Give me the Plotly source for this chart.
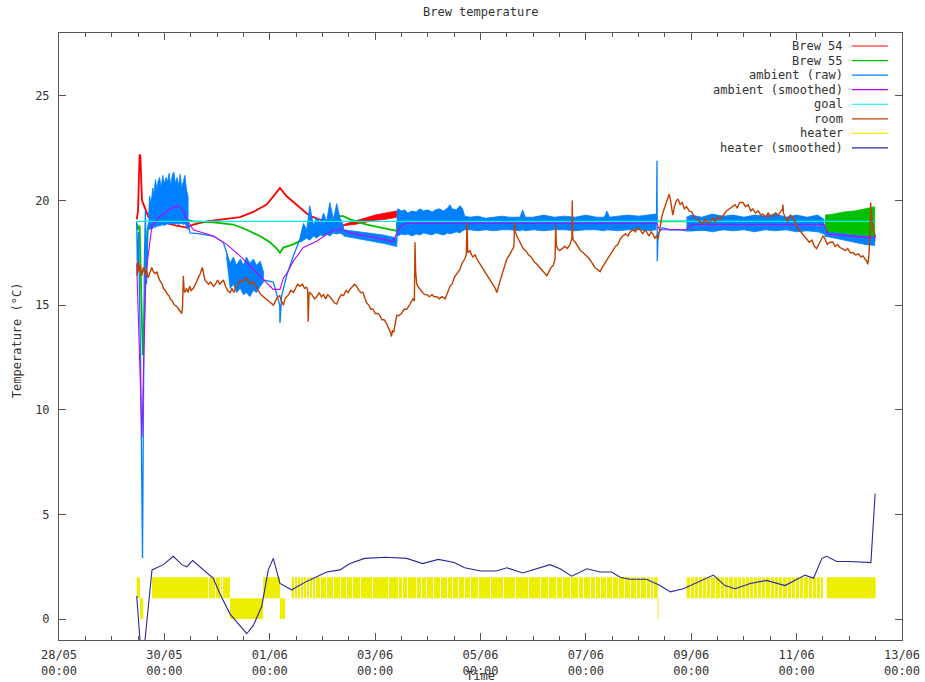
import numpy as np
import pandas as pd
import plotly.graph_objects as go

START = pd.Timestamp("2011-05-28 00:00")


def when(days):
    return START + pd.to_timedelta(np.asarray(days, dtype=float), unit="D")


# ---------------- data (time in days since 28/05 00:00, temperature in °C) ----------------
brew54_day = [1.475, 1.50, 1.53, 1.545, 1.575, 1.632, 1.70, 1.90, 2.10, 2.234, 2.424, 2.549, 2.803,
              3.183, 3.435, 3.688, 3.942, 4.132, 4.194, 4.321, 4.574, 4.764, 4.826, 5.143, 5.40]
brew54_temp = [19.1, 19.5, 22.2, 22.1, 20.0, 19.6, 19.2, 19.0, 18.9, 18.8, 18.7, 18.85, 19.0,
               19.1, 19.2, 19.45, 19.8, 20.4, 20.6, 20.2, 19.65, 19.25, 19.2, 18.9, 18.82]
brew54_band_day = [5.40, 5.60, 5.80, 6.00, 6.20, 6.41]
brew54_band_lo = [18.8, 18.85, 18.95, 19.05, 19.1, 19.2]
brew54_band_hi = [18.85, 19.0, 19.15, 19.3, 19.4, 19.5]

brew55_day = [1.475, 1.50, 1.53, 1.56, 1.59, 1.62, 1.65, 1.68, 1.72, 1.80, 2.0, 2.234, 2.549, 2.928,
              3.308, 3.562, 3.815, 4.005, 4.132, 4.194, 4.257, 4.447, 4.637, 4.796, 5.016, 5.27,
              5.396, 5.523, 5.84, 6.155, 6.409, 6.42, 11.36, 11.40, 14.54]
brew55_temp = [18.9, 18.6, 18.8, 16.0, 12.6, 14.5, 17.5, 18.6, 18.9, 19.0, 19.1, 19.2, 19.0, 18.95,
               18.85, 18.6, 18.3, 18.0, 17.7, 17.5, 17.75, 17.9, 18.15, 18.45, 18.8, 19.25,
               19.25, 19.1, 18.85, 18.7, 18.55, 19.0, 19.0, 19.0, 19.0]
brew55_band_day = [14.54, 14.7, 14.9, 15.1, 15.3, 15.48]
brew55_band_lo = [18.3, 18.25, 18.2, 18.1, 18.0, 18.0]
brew55_band_hi = [19.3, 19.35, 19.45, 19.5, 19.6, 19.7]

ambient_day = [1.475, 1.49, 1.51, 1.55, 1.585, 1.60, 1.62, 1.64, 1.66, 1.69, 1.72, 2.45, 2.486, 2.676,
               2.928, 3.118, 3.183, 3.245, 3.877, 4.067, 4.19, 4.194, 4.227, 4.32, 4.447, 4.574,
               4.70, 5.40, 5.84, 6.155, 6.41, 6.42, 11.34, 11.35, 11.355, 11.37, 11.45, 11.6, 11.8,
               11.91, 14.52, 14.54, 15.5]
ambient_temp = [19.0, 16.5, 18.5, 12.0, 2.9, 10.0, 17.0, 19.5, 16.0, 18.8, 19.0, 19.0, 18.45, 18.4,
                18.3, 18.0, 17.5, 16.8, 16.2, 16.1, 15.0, 14.15, 15.45, 16.4, 17.35, 18.15,
                18.45, 18.45, 18.3, 18.15, 18.0, 18.9, 18.9, 21.9, 17.1, 18.4, 18.7, 18.6, 18.6,
                18.55, 18.8, 18.3, 18.1]

# noisy stretches of the raw ambient reading: (day, low envelope, high envelope)
amb_b_day = [1.70, 1.72, 1.75, 1.78, 1.80, 1.83, 1.86, 1.88, 1.91, 1.94, 1.97, 2.00, 2.03, 2.06,
             2.09, 2.12, 2.15, 2.18, 2.21, 2.24, 2.27, 2.30, 2.33, 2.36, 2.39, 2.42, 2.45]
amb_b_lo = [18.7, 18.6, 18.7, 18.65, 18.75, 18.7, 18.8, 18.75, 18.8, 18.8, 18.85, 18.8, 18.85, 18.9,
            18.85, 18.9, 18.9, 18.85, 18.9, 18.9, 18.85, 18.9, 18.9, 18.85, 18.9, 18.8, 18.6]
amb_b_hi = [19.3, 20.2, 19.9, 20.6, 20.3, 21.0, 20.5, 20.9, 21.1, 20.6, 21.2, 20.8, 21.1, 20.9,
            21.3, 20.7, 21.2, 21.35, 20.8, 21.1, 20.7, 21.25, 20.6, 20.9, 21.2, 20.5, 20.2]
amb_d_day = [3.18, 3.25, 3.31, 3.37, 3.44, 3.50, 3.56, 3.62, 3.69, 3.75, 3.82, 3.88]
amb_d_lo = [17.3, 15.8, 16.0, 15.6, 15.8, 15.5, 15.6, 15.4, 15.7, 15.6, 15.9, 16.1]
amb_d_hi = [17.5, 17.0, 17.3, 16.9, 17.2, 16.9, 17.3, 17.0, 17.2, 16.9, 17.1, 16.6]
amb_f_day = [4.57, 4.64, 4.70, 4.76, 4.83, 4.89, 4.96, 5.02, 5.08, 5.14, 5.21, 5.27, 5.33, 5.40]
amb_f_lo = [18.0, 18.1, 18.2, 18.1, 18.3, 18.2, 18.35, 18.3, 18.4, 18.3, 18.45, 18.4, 18.45, 18.35]
amb_f_hi = [18.2, 18.9, 18.6, 19.75, 18.8, 19.2, 18.9, 19.4, 19.0, 19.9, 19.1, 19.85, 19.2, 18.8]
amb_g_day = [5.40, 5.84, 6.155, 6.41]
amb_g_lo = [18.3, 18.1, 17.95, 17.8]
amb_g_hi = [18.6, 18.45, 18.35, 18.2]
amb_h_day = [6.41, 6.43, 6.50, 6.56, 6.62, 6.70, 6.78, 6.85, 6.92, 7.00, 7.08, 7.15, 7.22, 7.30,
             7.38, 7.42, 7.46, 7.54, 7.61, 7.66, 7.70, 7.80, 7.95, 8.10, 8.25, 8.40, 8.55, 8.75,
             8.80, 8.85, 9.00, 9.20, 9.40, 9.60, 9.80, 10.00, 10.20, 10.35, 10.40, 10.45, 10.60,
             10.80, 11.00, 11.20, 11.33]
amb_h_lo = [18.35, 18.3, 18.4, 18.35, 18.4, 18.3, 18.4, 18.35, 18.45, 18.4, 18.35, 18.45, 18.4,
            18.35, 18.45, 18.4, 18.45, 18.5, 18.45, 18.55, 18.6, 18.6, 18.55, 18.6, 18.55, 18.6,
            18.6, 18.55, 18.6, 18.55, 18.6, 18.55, 18.6, 18.6, 18.55, 18.6, 18.6, 18.55, 18.6,
            18.6, 18.55, 18.6, 18.6, 18.55, 18.6]
amb_h_hi = [19.45, 19.6, 19.5, 19.55, 19.4, 19.5, 19.45, 19.6, 19.5, 19.55, 19.45, 19.55, 19.6,
            19.5, 19.65, 19.8, 19.6, 19.55, 19.75, 19.6, 19.25, 19.2, 19.25, 19.15, 19.2, 19.25,
            19.2, 19.2, 19.55, 19.2, 19.2, 19.3, 19.2, 19.25, 19.2, 19.3, 19.2, 19.2, 19.5,
            19.2, 19.25, 19.3, 19.25, 19.3, 19.35]
amb_k_day = [11.91, 12.0, 12.2, 12.4, 12.6, 12.8, 13.0, 13.2, 13.4, 13.6, 13.8, 14.0, 14.2, 14.4, 14.52]
amb_k_lo = [18.6, 18.55, 18.6, 18.5, 18.6, 18.55, 18.6, 18.5, 18.6, 18.55, 18.6, 18.5, 18.55, 18.5, 18.4]
amb_k_hi = [19.2, 19.3, 19.2, 19.35, 19.25, 19.3, 19.2, 19.3, 19.25, 19.35, 19.2, 19.3, 19.2, 19.3, 19.1]
amb_m_day = [14.54, 14.7, 14.9, 15.1, 15.3, 15.48]
amb_m_lo = [18.3, 18.2, 18.1, 18.0, 17.9, 17.85]
amb_m_hi = [18.5, 18.45, 18.4, 18.35, 18.3, 18.3]

smooth_day = [1.475, 1.52, 1.575, 1.61, 1.65, 1.69, 1.765, 1.90, 2.044, 2.234, 2.33, 2.424, 2.549,
              2.928, 3.183, 3.435, 3.625, 3.815, 4.005, 4.067, 4.194, 4.26, 4.32, 4.447, 4.637,
              4.891, 5.206, 5.396, 5.523, 5.84, 6.155, 6.345, 6.409, 6.5, 6.6, 11.34, 11.40,
              11.90, 12.0, 14.52, 14.6, 15.5]
smooth_temp = [17.0, 13.0, 8.7, 12.5, 16.5, 17.3, 18.8, 19.2, 19.5, 19.75, 19.6, 19.1, 18.6,
               18.3, 17.9, 17.35, 16.85, 16.4, 15.9, 15.75, 15.75, 16.3, 16.5, 17.1, 17.75,
               18.05, 18.6, 18.6, 18.45, 18.3, 18.15, 18.05, 18.45, 18.8, 18.9, 18.9, 18.6,
               18.6, 18.85, 18.85, 18.4, 18.2]

goal_day = [1.475, 15.5]
goal_temp = [19.0, 19.0]

room_day = [1.48, 1.50, 1.52, 1.54, 1.57, 1.60, 1.63, 1.66, 1.69, 1.73, 1.76, 1.79, 1.83, 1.86,
            1.89, 1.93, 1.96, 1.98, 2.02, 2.06, 2.09, 2.11, 2.15, 2.19, 2.23, 2.27, 2.30, 2.33,
            2.345, 2.36, 2.375, 2.39, 2.42, 2.45, 2.48, 2.51, 2.55, 2.58, 2.61, 2.64, 2.68, 2.72,
            2.74, 2.77, 2.80, 2.84, 2.88, 2.93, 2.97, 3.01, 3.05, 3.09, 3.12, 3.16, 3.20, 3.25,
            3.28, 3.32, 3.36, 3.40, 3.44, 3.50, 3.54, 3.58, 3.63, 3.69, 3.73, 3.78, 3.83, 3.88,
            3.93, 3.98, 4.03, 4.07, 4.11, 4.15, 4.19, 4.22, 4.26, 4.29, 4.32, 4.36, 4.40, 4.45,
            4.49, 4.53, 4.57, 4.62, 4.66, 4.70, 4.72, 4.73, 4.745, 4.76, 4.80, 4.85, 4.89, 4.94,
            4.98, 5.02, 5.06, 5.10, 5.14, 5.19, 5.23, 5.27, 5.31, 5.36, 5.40, 5.45, 5.49, 5.52,
            5.57, 5.61, 5.65, 5.69, 5.73, 5.77, 5.81, 5.84, 5.88, 5.92, 5.96, 6.00, 6.05, 6.09,
            6.13, 6.17, 6.22, 6.26, 6.29, 6.31, 6.33, 6.35, 6.38, 6.41, 6.45, 6.50, 6.55, 6.60,
            6.65, 6.70, 6.72, 6.745, 6.757, 6.77, 6.79, 6.81, 6.86, 6.90, 6.94, 6.98, 7.03, 7.08,
            7.12, 7.17, 7.22, 7.27, 7.33, 7.37, 7.42, 7.46, 7.50, 7.55, 7.61, 7.65, 7.70, 7.73,
            7.745, 7.755, 7.76, 7.80, 7.85, 7.90, 7.93, 7.98, 8.03, 8.08, 8.13, 8.18, 8.24, 8.28,
            8.31, 8.35, 8.40, 8.45, 8.50, 8.55, 8.60, 8.635, 8.645, 8.66, 8.69, 8.73, 8.77, 8.81,
            8.86, 8.91, 8.96, 9.01, 9.07, 9.12, 9.17, 9.22, 9.26, 9.30, 9.34, 9.38, 9.415, 9.427,
            9.44, 9.46, 9.50, 9.55, 9.60, 9.65, 9.70, 9.735, 9.742, 9.75, 9.76, 9.80, 9.85, 9.90,
            9.95, 10.02, 10.07, 10.12, 10.17, 10.22, 10.27, 10.31, 10.36, 10.41, 10.46, 10.51,
            10.56, 10.61, 10.65, 10.70, 10.75, 10.80, 10.84, 10.89, 10.94, 10.98, 11.03, 11.08,
            11.12, 11.15, 11.20, 11.24, 11.27, 11.31, 11.34, 11.37, 11.39, 11.41, 11.44, 11.46,
            11.50, 11.55, 11.58, 11.60, 11.63, 11.65, 11.68, 11.72, 11.75, 11.79, 11.83, 11.87,
            11.91, 11.96, 12.01, 12.06, 12.11, 12.17, 12.22, 12.27, 12.32, 12.36, 12.41, 12.46,
            12.50, 12.55, 12.60, 12.64, 12.67, 12.72, 12.77, 12.83, 12.87, 12.92, 12.98, 13.03,
            13.08, 13.13, 13.17, 13.22, 13.27, 13.32, 13.36, 13.41, 13.46, 13.51, 13.55, 13.60,
            13.65, 13.70, 13.735, 13.741, 13.75, 13.78, 13.83, 13.88, 13.93, 13.98, 14.03, 14.08,
            14.14, 14.19, 14.24, 14.29, 14.34, 14.38, 14.42, 14.46, 14.50, 14.54, 14.58, 14.63,
            14.69, 14.73, 14.78, 14.82, 14.87, 14.92, 14.97, 15.02, 15.07, 15.12, 15.17, 15.22,
            15.26, 15.30, 15.33, 15.35, 15.37, 15.395, 15.405, 15.42, 15.45, 15.48, 15.5]
room_temp = [16.4, 17.1, 16.6, 16.9, 16.4, 16.8, 16.5, 16.7, 16.3, 16.6, 16.8, 16.6, 16.5, 16.6,
             16.3, 16.1, 16.0, 15.8, 15.7, 15.5, 15.45, 15.3, 15.2, 15.0, 14.95, 14.8, 14.7, 14.6,
             14.9, 16.4, 15.7, 15.6, 15.8, 15.6, 15.9, 15.7, 15.8, 16.0, 16.1, 16.3, 16.5, 16.8,
             16.6, 16.2, 16.1, 16.0, 16.1, 15.9, 16.0, 16.2, 16.0, 16.1, 16.2, 15.9, 15.7, 15.6,
             15.8, 15.6, 15.9, 16.0, 16.2, 16.1, 16.3, 16.2, 16.0, 16.1, 15.9, 15.7, 15.5, 15.4,
             15.3, 15.2, 15.1, 15.0, 15.2, 15.4, 15.45, 15.2, 15.0, 15.3, 15.4, 15.5, 15.7, 15.6,
             15.8, 16.0, 15.9, 16.0, 15.8, 15.85, 15.7, 14.2, 15.5, 15.6, 15.5, 15.3, 15.4, 15.6,
             15.4, 15.5, 15.3, 15.5, 15.4, 15.2, 15.1, 15.05, 15.3, 15.5, 15.45, 15.7, 15.6, 15.75,
             15.9, 16.0, 15.9, 15.7, 15.6, 15.6, 15.3, 15.1, 15.0, 14.8, 14.8, 14.6, 14.6, 14.5,
             14.3, 14.3, 14.1, 13.9, 13.7, 13.5, 13.8, 13.7, 14.2, 14.5, 14.5, 14.6, 14.8, 14.8,
             15.0, 15.2, 15.3, 15.2, 18.0, 16.6, 16.0, 15.9, 15.7, 15.6, 15.5, 15.5, 15.4, 15.5,
             15.4, 15.4, 15.3, 15.4, 15.3, 15.6, 15.9, 16.0, 16.3, 16.5, 16.7, 17.0, 17.2, 17.4,
             18.95, 17.8, 17.5, 17.6, 17.3, 17.4, 17.2, 17.0, 16.8, 16.6, 16.4, 16.2, 15.9, 15.8,
             15.6, 16.0, 16.4, 16.8, 17.2, 17.4, 17.6, 17.8, 18.95, 18.5, 18.3, 18.1, 17.9, 17.7,
             17.6, 17.4, 17.3, 17.1, 16.95, 16.8, 16.7, 16.5, 16.4, 16.6, 16.8, 16.9, 17.2, 18.8,
             17.9, 17.7, 17.6, 17.7, 17.8, 17.7, 17.9, 18.2, 20.0, 18.3, 18.1, 18.0, 17.8, 17.6,
             17.5, 17.35, 17.2, 17.0, 16.8, 16.7, 16.6, 16.8, 17.0, 17.2, 17.35, 17.6,
             17.8, 17.9, 18.15, 18.3, 18.4, 18.3, 18.5, 18.6, 18.5, 18.7, 18.6, 18.4,
             18.6, 18.5, 18.3, 18.5, 18.4, 18.2, 18.3, 18.15, 18.5, 18.8, 19.2, 19.4,
             19.7, 20.0, 20.3, 20.1, 19.6, 19.3, 19.7, 20.0, 20.05, 19.8, 19.9, 19.6,
             19.7, 19.5, 19.45, 19.2, 19.1, 19.0, 18.9, 19.1, 18.9, 19.0, 19.15, 19.0,
             19.2, 19.1, 19.3, 19.4, 19.5, 19.6, 19.7, 19.8, 19.65, 19.9, 19.9, 19.7,
             19.8, 19.5, 19.6, 19.4, 19.5, 19.3, 19.35, 19.2, 19.4, 19.2, 19.3, 19.4,
             19.3, 19.5, 19.6, 19.8, 19.4, 19.2, 19.0, 19.3, 19.2, 18.9, 18.6, 18.5,
             18.3, 18.15, 18.0, 18.1, 17.8, 17.7, 17.9, 18.1, 18.3, 18.15, 17.9, 18.0,
             18.0, 17.8, 17.9, 17.75, 17.7, 17.6, 17.7, 17.5, 17.5, 17.4, 17.45, 17.3,
             17.35, 17.2, 17.1, 16.95, 17.3, 18.5, 19.9, 19.2, 18.6, 18.4, 18.25]

# heater state: 2 = heating, 1 = idle, 0 = cooling
heater_seg_day = [1.475, 1.537, 1.600, 1.765, 3.245, 3.877, 4.194, 4.290, 4.416, 11.363, 11.380,
                  11.913, 14.500, 14.570, 15.500]
heater_seg_state = [2, 0, 1, 2, 0, 2, 0, 1, 2, 0, 1, 2, 1, 2, 1]
heater_gap_from = [2.828, 2.961, 3.056, 3.094,
                   4.460, 4.517, 4.574, 4.631, 4.688, 4.745, 4.802, 4.859, 4.953, 5.067, 5.200,
                   5.333, 5.447, 5.561, 5.713, 5.940, 6.244, 6.434, 6.510, 6.605, 6.776, 6.870,
                   6.965, 7.098, 7.231, 7.364, 7.459, 7.573, 7.687, 7.801, 7.953, 8.180, 8.427,
                   8.655, 8.901, 9.129, 9.281, 9.433, 9.547, 9.698, 9.850, 9.945, 10.078, 10.173,
                   10.268, 10.381, 10.495, 10.609, 10.723, 10.837, 10.951, 11.027, 11.141, 11.217,
                   11.274,
                   11.976, 12.051, 12.127, 12.203, 12.279, 12.355, 12.450, 12.545, 12.621, 12.697,
                   12.792, 12.868, 12.944, 13.020, 13.096, 13.171, 13.247, 13.323, 13.399, 13.494,
                   13.570, 13.646, 13.722, 13.817, 13.893, 13.968, 14.044, 14.120, 14.215, 14.291,
                   14.367, 14.443]
heater_gap_to = [2.846, 2.979, 3.074, 3.112,
                 4.478, 4.535, 4.592, 4.649, 4.706, 4.763, 4.820, 4.877, 4.971, 5.085, 5.218,
                 5.351, 5.465, 5.579, 5.731, 5.958, 6.262, 6.452, 6.528, 6.623, 6.794, 6.888,
                 6.983, 7.116, 7.249, 7.382, 7.477, 7.591, 7.705, 7.819, 7.971, 8.198, 8.445,
                 8.673, 8.919, 9.147, 9.299, 9.451, 9.565, 9.716, 9.868, 9.963, 10.096, 10.191,
                 10.286, 10.399, 10.513, 10.627, 10.741, 10.855, 10.969, 11.045, 11.159, 11.235,
                 11.292,
                 11.994, 12.069, 12.145, 12.221, 12.297, 12.373, 12.468, 12.563, 12.639, 12.715,
                 12.810, 12.886, 12.962, 13.038, 13.114, 13.189, 13.265, 13.341, 13.417, 13.512,
                 13.588, 13.664, 13.740, 13.835, 13.911, 13.986, 14.062, 14.138, 14.233, 14.309,
                 14.385, 14.461]

heater_smooth_day = [1.475, 1.537, 1.566, 1.60, 1.632, 1.765, 1.98, 2.169, 2.329, 2.424, 2.537,
                     2.928, 3.056, 3.245, 3.562, 3.688, 3.847, 3.972, 4.067, 4.194, 4.416, 4.701,
                     5.081, 5.333, 5.523, 5.8, 6.2, 6.6, 6.9, 7.2, 7.5, 7.7, 8.0, 8.3, 8.5, 8.8,
                     9.1, 9.32, 9.51, 9.73, 10.02, 10.27, 10.49, 10.65, 10.84, 11.15, 11.41, 11.60,
                     11.85, 12.42, 12.64, 12.83, 13.12, 13.43, 13.78, 14.16, 14.32, 14.48, 14.57,
                     14.76, 15.01, 15.41, 15.49]
heater_smooth_val = [1.1, -1.0, -2.0, -2.0, -1.0, 2.35, 2.6, 3.0, 2.6, 2.5, 2.8,
                     1.95, 1.2, 0.25, -0.7, -0.3, 0.6, 2.35, 2.9, 1.7, 1.4, 1.8,
                     2.25, 2.35, 2.65, 2.9, 2.95, 2.9, 2.65, 2.85, 2.7, 2.45, 2.3, 2.3, 2.45, 2.2,
                     2.45, 2.6, 2.4, 2.05, 2.4, 2.25, 2.25, 2.0, 1.9, 1.9, 1.6, 1.3,
                     1.45, 2.1, 1.6, 1.45, 1.7, 1.85, 1.6, 2.1, 1.95, 2.9, 3.0,
                     2.75, 2.75, 2.7, 6.0]

tick_day = [0, 2, 4, 6, 8, 10, 12, 14, 16]
tick_text = ["28/05<br>00:00", "30/05<br>00:00", "01/06<br>00:00", "03/06<br>00:00",
             "05/06<br>00:00", "07/06<br>00:00", "09/06<br>00:00", "11/06<br>00:00",
             "13/06<br>00:00"]
temp_ticks = [0, 5, 10, 15, 20, 25]

legend_names = ["Brew 54", "Brew 55", "ambient (raw)", "ambient (smoothed)", "goal", "room",
                "heater", "heater (smoothed)"]
legend_colors = ["#ff0000", "#00c000", "#0080ff", "#c000ff", "#00eeee", "#c04000", "#eeee00",
                 "#28289a"]
RED, GREEN, BLUE, PURPLE, CYAN, BROWN, YELLOW, NAVY = legend_colors

FONT = "DejaVu Sans Mono"
INK = "#333333"
FRAME = "#555555"

fig = go.Figure()


def line(day, val, color, width=1.0):
    fig.add_trace(go.Scatter(x=when(day), y=val, mode="lines", showlegend=False,
                             line=dict(color=color, width=width), hoverinfo="skip"))


def band(day, lo, hi, color):
    xs = list(when(day)) + list(when(day[::-1]))
    ys = list(hi) + list(lo[::-1])
    fig.add_trace(go.Scatter(x=xs, y=ys, mode="lines", fill="toself", fillcolor=color,
                             showlegend=False, line=dict(color=color, width=0.8),
                             hoverinfo="skip"))


# Brew 54
line(brew54_day, brew54_temp, RED, 1.8)
band(brew54_band_day, brew54_band_lo, brew54_band_hi, RED)
# Brew 55
line(brew55_day, brew55_temp, GREEN, 1.8)
band(brew55_band_day, brew55_band_lo, brew55_band_hi, GREEN)
# ambient (raw)
line(ambient_day, ambient_temp, BLUE, 1.3)
for d, lo, hi in [(amb_b_day, amb_b_lo, amb_b_hi), (amb_d_day, amb_d_lo, amb_d_hi),
                  (amb_f_day, amb_f_lo, amb_f_hi), (amb_g_day, amb_g_lo, amb_g_hi),
                  (amb_h_day, amb_h_lo, amb_h_hi), (amb_k_day, amb_k_lo, amb_k_hi),
                  (amb_m_day, amb_m_lo, amb_m_hi)]:
    band(d, lo, hi, BLUE)
# ambient (smoothed)
line(smooth_day, smooth_temp, PURPLE, 1.1)
# goal
line(goal_day, goal_temp, CYAN, 1.1)
# room
line(room_day, room_temp, BROWN, 1.4)

# heater: filled between the idle level (1) and the state
events = sorted(list(zip(heater_seg_day, heater_seg_state))
                + [(d, 1) for d in heater_gap_from] + [(d, 2) for d in heater_gap_to])
h_day = [e[0] for e in events]
h_state = [e[1] for e in events]
fig.add_trace(go.Scatter(x=when(h_day), y=[1] * len(h_day), mode="lines", showlegend=False,
                         line=dict(color=YELLOW, width=0), hoverinfo="skip"))
fig.add_trace(go.Scatter(x=when(h_day), y=h_state, mode="lines", line_shape="hv",
                         fill="tonexty", fillcolor=YELLOW, showlegend=False,
                         line=dict(color=YELLOW, width=0), hoverinfo="skip"))
# heater (smoothed)
line(heater_smooth_day, heater_smooth_val, NAVY, 1.1)

# gnuplot-style key: right-aligned labels with the sample line to their right
row0, step = 0.9786, 0.0240
annotations = []
shapes = []
for i, (name, col) in enumerate(zip(legend_names, legend_colors)):
    yy = row0 - i * step
    annotations.append(dict(xref="paper", yref="paper", x=0.9324, y=yy, text=name,
                            showarrow=False, xanchor="right", yanchor="middle",
                            font=dict(family=FONT, size=12, color=INK)))
    shapes.append(dict(type="line", xref="paper", yref="paper", x0=0.9407, x1=0.9834,
                       y0=yy, y1=yy, line=dict(color=col, width=1.2)))

annotations += [
    dict(xref="paper", yref="paper", x=0.5, y=1.0346, text="Brew temperature", showarrow=False,
         xanchor="center", yanchor="middle", font=dict(family=FONT, size=12, color=INK)),
    dict(xref="paper", yref="paper", x=0.5, y=-0.0593, text="Time", showarrow=False,
         xanchor="center", yanchor="middle", font=dict(family=FONT, size=12, color=INK)),
    dict(xref="paper", yref="paper", x=-0.0498, y=0.494, text="Temperature (°C)",
         showarrow=False, textangle=-90, xanchor="center", yanchor="middle",
         font=dict(family=FONT, size=12, color=INK)),
]

fig.update_layout(
    template="none",
    width=925, height=682,
    margin=dict(l=59, r=23, t=33, b=42, pad=0, autoexpand=False),
    paper_bgcolor="white", plot_bgcolor="white",
    showlegend=False,
    font=dict(family=FONT, size=12, color=INK),
    annotations=annotations, shapes=shapes,
    xaxis=dict(type="date", range=[when([0])[0], when([16])[0]], automargin=False,
               tickmode="array", tickvals=list(when(tick_day)), ticktext=tick_text,
               ticks="inside", ticklen=7, tickcolor=FRAME, mirror="allticks",
               showline=True, linecolor=FRAME, linewidth=1, showgrid=False, zeroline=False,
               ticklabelstandoff=4,
               minor=dict(tickmode="linear", tick0=when([0])[0], dtick=12 * 3600 * 1000,
                          ticks="inside", ticklen=4, tickcolor=FRAME, showgrid=False)),
    yaxis=dict(range=[-1, 28], tickmode="array", tickvals=temp_ticks, automargin=False,
               ticks="inside", ticklen=7, tickcolor=FRAME, mirror="allticks",
               showline=True, linecolor=FRAME, linewidth=1, showgrid=False, zeroline=False,
               ticklabelstandoff=6),
)

fig.write_html("out.html")
